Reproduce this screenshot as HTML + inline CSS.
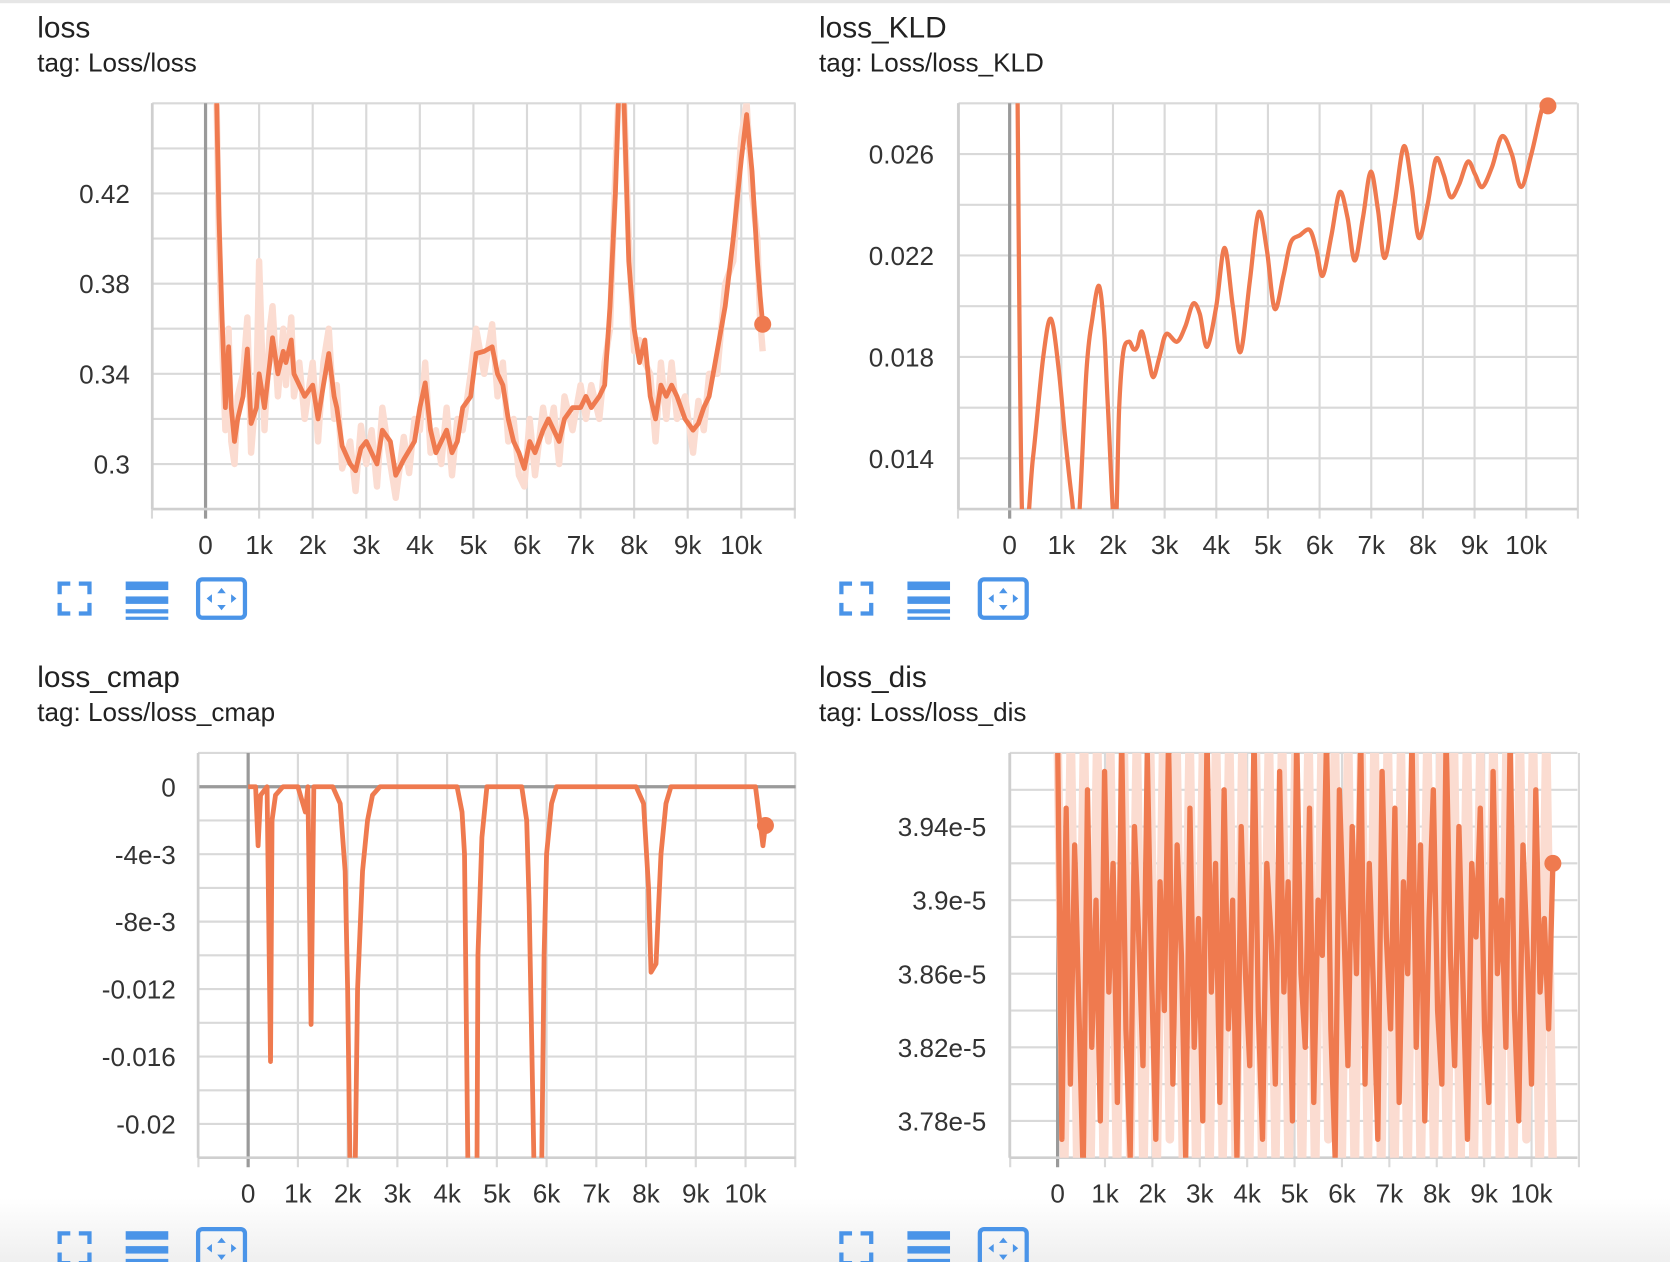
<!DOCTYPE html>
<html><head><meta charset="utf-8">
<style>
html,body{margin:0;padding:0;background:#fff;overflow:hidden;}
body{width:1670px;height:1262px;}
#root{position:absolute;left:0;top:0;width:1568px;height:1185px;transform:scale(1.06505);transform-origin:0 0;font-family:"Liberation Sans",sans-serif;}
.t{position:absolute;font-size:28px;color:#212121;}
.s{position:absolute;font-size:24.5px;color:#212121;}
svg text{font-family:"Liberation Sans",sans-serif;}
</style></head>
<body>
<div id="root">
<div style="position:absolute;left:0;top:0;width:1568px;height:3px;background:#e6e6e6"></div>
<div style="position:absolute;left:0;top:1125px;width:1568px;height:60px;background:linear-gradient(#fff,#efefef)"></div>
<div class="t" style="left:35px;top:10px">loss</div>
<div class="s" style="left:35px;top:46px">tag: Loss/loss</div>
<div class="t" style="left:769px;top:10px">loss_KLD</div>
<div class="s" style="left:769px;top:46px">tag: Loss/loss_KLD</div>
<div class="t" style="left:35px;top:620px">loss_cmap</div>
<div class="s" style="left:35px;top:656px">tag: Loss/loss_cmap</div>
<div class="t" style="left:769px;top:620px">loss_dis</div>
<div class="s" style="left:769px;top:656px">tag: Loss/loss_dis</div>
<svg id="svg" width="1568" height="1185" style="position:absolute;left:0;top:0"></svg>
</div>
<script>
// ---- data ----
const lossSteps=[200,250,300,370,430,480,540,600,700,780,850,950,1000,1100,1200,1250,1350,1450,1500,1600,1650,1750,1850,2000,2100,2200,2300,2400,2450,2550,2700,2800,2900,3000,3100,3200,3300,3450,3550,3700,3800,3900,4000,4100,4200,4300,4400,4500,4600,4700,4800,4950,5050,5200,5350,5450,5550,5650,5750,5850,5950,6050,6150,6300,6400,6500,6600,6700,6850,7000,7100,7200,7350,7450,7550,7650,7720,7800,7900,8000,8100,8200,8300,8400,8500,8600,8700,8800,8950,9100,9200,9300,9400,9550,9700,9850,10000,10100,10200,10300,10350,10400];
const lossVals=[0.47,0.41,0.37,0.325,0.352,0.325,0.31,0.32,0.33,0.351,0.318,0.325,0.34,0.325,0.345,0.356,0.34,0.35,0.345,0.355,0.34,0.335,0.33,0.335,0.32,0.335,0.349,0.33,0.325,0.308,0.30,0.297,0.307,0.31,0.305,0.30,0.315,0.31,0.295,0.302,0.306,0.31,0.325,0.336,0.315,0.305,0.31,0.315,0.305,0.31,0.325,0.33,0.349,0.35,0.352,0.34,0.335,0.32,0.31,0.305,0.298,0.31,0.305,0.315,0.32,0.315,0.31,0.32,0.325,0.325,0.33,0.325,0.33,0.335,0.37,0.42,0.47,0.47,0.39,0.36,0.345,0.355,0.33,0.32,0.335,0.33,0.335,0.33,0.32,0.315,0.318,0.325,0.33,0.35,0.37,0.40,0.435,0.455,0.43,0.39,0.375,0.362];
const lossRaw=[0.47,0.40,0.36,0.315,0.36,0.31,0.30,0.33,0.34,0.365,0.305,0.335,0.39,0.315,0.36,0.37,0.33,0.36,0.335,0.365,0.33,0.345,0.32,0.345,0.31,0.345,0.36,0.32,0.335,0.298,0.31,0.288,0.317,0.30,0.315,0.29,0.325,0.30,0.285,0.312,0.296,0.32,0.315,0.345,0.305,0.315,0.30,0.325,0.295,0.32,0.315,0.34,0.36,0.34,0.362,0.33,0.345,0.31,0.32,0.295,0.29,0.32,0.295,0.325,0.31,0.325,0.30,0.33,0.315,0.335,0.32,0.335,0.32,0.345,0.36,0.43,0.47,0.47,0.40,0.35,0.355,0.345,0.34,0.31,0.345,0.32,0.345,0.32,0.33,0.305,0.328,0.315,0.34,0.34,0.38,0.39,0.445,0.46,0.42,0.40,0.365,0.35];
const kldSteps=[145,250,450,650,800,950,1070,1200,1320,1485,1600,1730,1830,1900,2040,2120,2200,2310,2400,2470,2560,2680,2780,2900,3030,3240,3400,3550,3680,3820,4000,4160,4320,4470,4650,4820,4980,5130,5300,5440,5620,5810,5940,6060,6230,6390,6540,6680,6840,6990,7130,7260,7450,7630,7780,7920,8090,8250,8400,8540,8700,8870,9010,9150,9340,9530,9720,9900,10100,10310,10420];
const kldVals=[0.030,0.011,0.0140,0.0180,0.0195,0.0175,0.0149,0.0125,0.0110,0.0174,0.0195,0.0208,0.0190,0.0161,0.0110,0.0160,0.0182,0.0186,0.0183,0.0184,0.0190,0.0180,0.0172,0.0180,0.0189,0.0186,0.0192,0.0201,0.0197,0.0184,0.0200,0.0223,0.0200,0.0182,0.0210,0.0237,0.0222,0.0199,0.0212,0.0225,0.0228,0.0230,0.0222,0.0212,0.0228,0.0245,0.0235,0.0218,0.0235,0.0253,0.0238,0.0219,0.0240,0.0263,0.0248,0.0227,0.0240,0.0258,0.0252,0.0243,0.0248,0.0257,0.0252,0.0247,0.0255,0.0267,0.0260,0.0247,0.0260,0.0278,0.0279];
const cmapSteps=[0,150,200,250,380,450,480,550,700,1000,1150,1200,1265,1320,1700,1850,1950,2000,2050,2150,2200,2300,2400,2500,2650,4200,4300,4350,4420,4600,4620,4700,4800,5500,5600,5650,5700,5750,5900,5950,6000,6100,6200,7800,7950,8050,8100,8200,8300,8400,8500,10200,10350,10400];
const cmapVals=[0,0,-0.0035,-0.0005,0,-0.0163,-0.002,-0.0005,0,0,-0.0015,0,-0.0141,0,0,-0.001,-0.005,-0.012,-0.023,-0.023,-0.012,-0.005,-0.002,-0.0005,0,0,-0.0015,-0.004,-0.023,-0.023,-0.01,-0.003,0,0,-0.002,-0.007,-0.015,-0.023,-0.023,-0.010,-0.004,-0.001,0,0,-0.001,-0.006,-0.011,-0.0105,-0.004,-0.001,0,0,-0.0035,-0.0023];
const disVals=[3.99,3.77,3.95,3.80,3.93,3.84,3.75,3.96,3.82,3.90,3.78,3.97,3.85,3.92,3.79,3.99,3.83,3.76,3.94,3.88,3.81,3.98,3.86,3.77,3.91,3.84,3.99,3.80,3.93,3.87,3.76,3.95,3.82,3.89,3.78,3.99,3.85,3.92,3.79,3.96,3.83,3.90,3.76,3.94,3.86,3.81,3.99,3.84,3.77,3.92,3.88,3.80,3.97,3.85,3.91,3.78,3.99,3.86,3.82,3.95,3.79,3.90,3.87,3.99,3.83,3.76,3.96,3.89,3.81,3.94,3.86,3.99,3.80,3.92,3.85,3.77,3.97,3.88,3.83,3.95,3.79,3.91,3.86,3.99,3.82,3.93,3.78,3.89,3.96,3.84,3.80,3.99,3.87,3.81,3.94,3.85,3.77,3.92,3.88,3.95,3.83,3.79,3.97,3.86,3.90,3.82,3.99,3.84,3.78,3.93,3.87,3.80,3.96,3.85,3.89,3.83,3.92];
const disRaw=[3.99,3.75,3.99,3.75,3.99,3.76,3.99,3.75,3.98,3.75,3.99,3.76,3.99,3.75,3.99,3.75,3.99,3.77,3.99,3.75,3.99,3.75,3.98,3.75,3.99,3.76,3.99,3.75,3.99,3.75,3.99,3.75,3.99,3.76,3.99,3.75,3.98,3.75,3.99,3.75,3.99,3.77,3.99,3.75,3.99,3.75,3.99,3.76,3.99,3.75,3.99,3.75,3.98,3.75,3.99,3.75,3.99,3.76,3.99,3.75,3.99,3.75,3.99,3.75,3.98,3.76,3.99,3.75,3.99,3.75,3.99,3.77,3.99,3.75,3.99,3.75];
const lossTicks=["0.3","0.34","0.38","0.42"];
const kldTicks=["0.014","0.018","0.022","0.026"];
const cmapTicks=["-0.02","-0.016","-0.012","-8e-3","-4e-3","0"];
const disTicks=["3.78e-5","3.82e-5","3.86e-5","3.9e-5","3.94e-5"];
const xTicks=["0","1k","2k","3k","4k","5k","6k","7k","8k","9k","10k"];

const NS="http://www.w3.org/2000/svg";
const svg=document.getElementById('svg');
function mk(tag,attrs,parent){const e=document.createElementNS(NS,tag);for(const k in attrs)e.setAttribute(k,attrs[k]);(parent||svg).appendChild(e);return e;}
const ORANGE="#ef7a4f",FAINT="#fbdcd1",GRID="#d9d9d9";

function chart(c){
  const g=mk('g',{});
  
  
  const X=s=>c.x0+s/1000*c.kw;
  const Y=v=>c.top+(c.ymax-v)/(c.ymax-c.ymin)*(c.bot-c.top);
  for(let v=c.ymin;v<=c.ymax+1e-12;v+=c.minor){
    const ln=mk('line',{x1:c.left,x2:c.right,y1:Y(v),y2:Y(v),stroke:GRID,'stroke-width':2},g);
    
    
  }
  for(let k=-1;k<=11;k++){
    const x=X(k*1000);if(x<c.left-2||x>c.right+2)continue;
    const ln=mk('line',{x1:x,x2:x,y1:c.top,y2:c.bot+9,stroke:k==0?'#9a9a9a':GRID,'stroke-width':k==0?3:2},g);
    
    
  }
  if(c.zeroLine){const z=mk('line',{x1:c.left,x2:c.right,y1:Y(0),y2:Y(0),stroke:'#9a9a9a','stroke-width':3},g);
    }
  const ax=mk('line',{x1:c.left,x2:c.right,y1:c.bot,y2:c.bot,stroke:'#cfcfcf','stroke-width':2.5},g);
  
  const ay=mk('line',{x1:c.left,x2:c.left,y1:c.top,y2:c.bot,stroke:'#cfcfcf','stroke-width':2.5},g);
  
  xTicks.forEach((t,i)=>{const tx=mk('text',{x:X(i*1000),y:c.bot+42,'text-anchor':'middle','font-size':24.5,fill:'#333'},g);tx.textContent=t;
    });
  c.ticks.forEach((t,i)=>{const v=c.tickVals[i];const tx=mk('text',{x:c.labelX,y:Y(v)+9,'text-anchor':'end','font-size':24.5,fill:'#333'},g);tx.textContent=t;
    });
  const cid='clip-'+c.name;
  const cp=mk('clipPath',{id:cid},g);mk('rect',{x:c.left,y:c.top,width:c.right-c.left,height:c.bot-c.top},cp);
  const pg=mk('g',{'clip-path':'url(#'+cid+')'},g);
  function path(steps,vals,col,w,smooth){
    const pts=steps.map((s,i)=>[X(s),Y(vals[i])]);
    let d='M'+pts[0][0]+','+pts[0][1];
    for(let i=1;i<pts.length;i++){
      if(smooth){const p0=pts[i-2]||pts[i-1],p1=pts[i-1],p2=pts[i],p3=pts[i+1]||p2;
        d+=`C${p1[0]+(p2[0]-p0[0])/6},${p1[1]+(p2[1]-p0[1])/6} ${p2[0]-(p3[0]-p1[0])/6},${p2[1]-(p3[1]-p1[1])/6} ${p2[0]},${p2[1]}`;}
      else d+='L'+pts[i][0]+','+pts[i][1];
    }
    return mk('path',{d:d,fill:'none',stroke:col,'stroke-width':w,'stroke-linejoin':'round'},pg);
  }
  if(c.raw){const r=path(c.rawSteps,c.raw,FAINT,c.rawW||2,false);}
  const p=path(c.steps,c.vals,ORANGE,c.lw||3.5,c.smooth);
  
  const n=c.steps.length-1;
  const dot=mk('circle',{cx:X(c.steps[n]),cy:Y(c.vals[n]),r:8,fill:ORANGE},g);
  
}
chart({name:'loss',left:143,right:747,top:97,bot:478,x0:193,kw:50.3,ymin:0.28,ymax:0.46,minor:0.02,lw:4.5,
  ticks:lossTicks,tickVals:[0.30,0.34,0.38,0.42],labelX:122,steps:lossSteps,vals:lossVals,raw:lossRaw,rawSteps:lossSteps,rawW:6});
chart({name:'kld',left:900,right:1481,top:97,bot:478,x0:948,kw:48.5,ymin:0.012,ymax:0.028,minor:0.002,lw:4,
  ticks:kldTicks,tickVals:[0.014,0.018,0.022,0.026],labelX:877,steps:kldSteps,vals:kldVals,smooth:true});
chart({name:'cmap',left:186,right:747,top:707,bot:1087,x0:233,kw:46.7,ymin:-0.022,ymax:0.002,minor:0.002,zeroLine:true,lw:4.5,
  ticks:cmapTicks,tickVals:[-0.02,-0.016,-0.012,-0.008,-0.004,0],labelX:165,steps:cmapSteps,vals:cmapVals});
const disSteps=disVals.map((v,i)=>i*10450/(disVals.length-1));
const disRawSteps=disRaw.map((v,i)=>i*10450/(disRaw.length-1));
chart({name:'dis',left:948,right:1481,top:707,bot:1087,x0:993,kw:44.5,ymin:3.76,ymax:3.98,minor:0.02,lw:5,
  ticks:disTicks,tickVals:[3.78,3.82,3.86,3.90,3.94],labelX:926,steps:disSteps,vals:disVals,raw:disRaw,rawSteps:disRawSteps,rawW:8});

function icons(ox,oy,pre){
  const B="#4a94e8";
  const g=mk('g',{transform:`translate(${ox},${oy})`});
  const f=mk('g',{fill:'none',stroke:B,'stroke-width':4},g);
  
  mk('path',{d:'M2,12V2H12 M20,2H30V12 M30,20V30H20 M12,30H2V20'},f);
  const l=mk('g',{fill:B},g);
  
  mk('rect',{x:64,y:0,width:40,height:8},l);mk('rect',{x:64,y:14,width:40,height:7},l);mk('rect',{x:64,y:26,width:40,height:4},l);mk('rect',{x:64,y:33,width:40,height:3},l);
  const ft=mk('g',{},g);
  
  mk('rect',{x:132,y:-2,width:44,height:36,rx:4,fill:'none',stroke:B,'stroke-width':4},ft);
  mk('path',{d:'M154,6l-4,5h8z M154,27l-4,-5h8z M140,16l5,-4v8z M168,16l-5,-4v8z',fill:B},ft);
}
icons(54,546,'loss');icons(788,546,'kld');icons(54,1156,'cmap');icons(788,1156,'dis');
</script>
</body></html>
